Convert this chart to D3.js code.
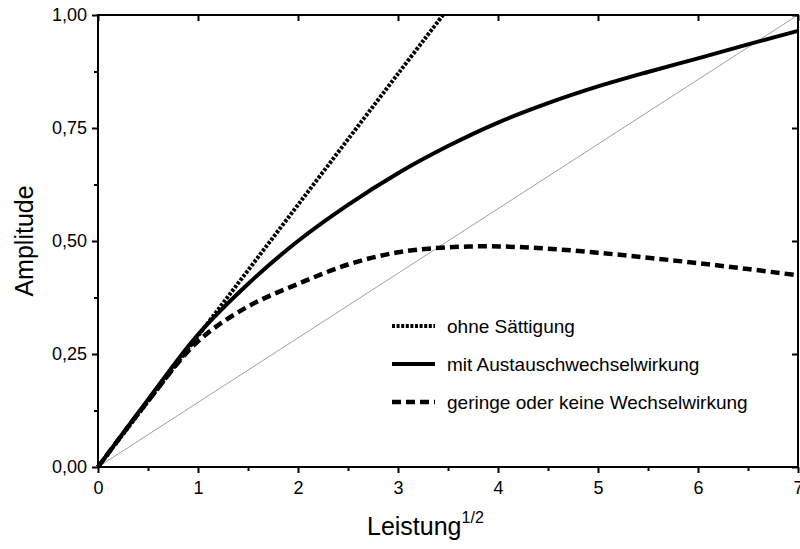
<!DOCTYPE html>
<html>
<head>
<meta charset="utf-8">
<script src="https://cdn.jsdelivr.net/npm/d3@7"></script>
<style>
  body { margin: 0; background: #fff; }
  svg { display: block; font-family: "Liberation Sans", Arial, sans-serif; }
</style>
</head>
<body>
<div id="chart"></div>
<script>
// values
var xTicks = [0, 1, 2, 3, 4, 5, 6, 7];
var yTicks = [0, 0.25, 0.5, 0.75, 1];

var ohneX = [0, 1, 2, 3, 3.45];
var ohneY = [0, 0.29, 0.58, 0.87, 1.0];

var mitX = [0, 0.5, 1, 1.5, 2, 2.5, 3, 3.5, 4, 4.5, 5, 5.5, 6, 6.5, 7];
var mitY = [0, 0.149, 0.293, 0.405, 0.5, 0.58, 0.65, 0.71, 0.762, 0.805, 0.842, 0.874, 0.904, 0.935, 0.965];

var geringX = [0, 0.5, 1, 1.5, 2, 2.5, 3, 3.5, 4, 4.5, 5, 5.5, 6, 6.5, 7];
var geringY = [0, 0.146, 0.278, 0.355, 0.405, 0.448, 0.475, 0.486, 0.488, 0.483, 0.474, 0.463, 0.451, 0.438, 0.424];

var diagX = [0, 7];
var diagY = [0, 1];

var legendLabels = ["ohne Sättigung", "mit Austauschwechselwirkung", "geringe oder keine Wechselwirkung"];

var W = 800, H = 549;
var pad = {l: 98, r: 2, t: 15, b: 82};

var svg = d3.select('#chart').append('svg')
    .attr('width', W)
    .attr('height', H);

var x = d3.scaleLinear().domain([0, 7]).range([pad.l, W - pad.r]);
var y = d3.scaleLinear().domain([0, 1]).range([H - pad.b, pad.t]);

var line = d3.line()
    .x(d => x(d[0]))
    .y(d => y(d[1]))
    .curve(d3.curveCatmullRom);

function pairs(xs, ys) { return xs.map((v, i) => [v, ys[i]]); }

// thin reference diagonal
svg.append('path')
    .attr('d', line(pairs(diagX, diagY)))
    .attr('fill', 'none')
    .attr('stroke', '#777')
    .attr('stroke-width', 0.7);

var styles = [
    {w: 4, dash: '3,1.6'},
    {w: 4, dash: null},
    {w: 4.5, dash: '9,5'}
];
var series = [pairs(ohneX, ohneY), pairs(mitX, mitY), pairs(geringX, geringY)];

series.forEach(function(s, i) {
    svg.append('path')
        .attr('d', line(s))
        .attr('fill', 'none')
        .attr('stroke', '#000')
        .attr('stroke-width', styles[i].w)
        .attr('stroke-dasharray', styles[i].dash);
});

// axes
var xAxis = d3.axisBottom(x).tickValues(xTicks).tickFormat(d3.format('d')).tickSize(6).tickPadding(8);
var xMinor = d3.axisBottom(x).tickValues(d3.range(0.5, 7, 1)).tickFormat('').tickSize(4);
var yFmt = d => d.toFixed(2).replace('.', ',');
var yAxis = d3.axisLeft(y).tickValues(yTicks).tickFormat(yFmt).tickSize(6).tickPadding(5);
var yMinor = d3.axisLeft(y).tickValues([0.125, 0.375, 0.625, 0.875]).tickFormat('').tickSize(4);
var xTop = d3.axisBottom(x).tickValues(xTicks).tickFormat('').tickSize(6);
var yRight = d3.axisLeft(y).tickValues(yTicks).tickFormat('').tickSize(6);

function styleAxis(g) {
    g.select('.domain').remove();
    g.selectAll('line').attr('stroke', '#000').attr('stroke-width', 2);
    g.selectAll('text').attr('fill', '#000').style('font-size', '18px');
}

svg.append('g').attr('transform', 'translate(0,' + y(0) + ')').call(xAxis).call(styleAxis);
svg.append('g').attr('transform', 'translate(0,' + y(0) + ')').call(xMinor).call(styleAxis);
svg.append('g').attr('transform', 'translate(' + x(0) + ',0)').call(yAxis).call(styleAxis);
svg.append('g').attr('transform', 'translate(' + x(0) + ',0)').call(yMinor).call(styleAxis);
svg.append('g').attr('transform', 'translate(0,' + y(1) + ')').call(xTop).call(styleAxis);
svg.append('g').attr('transform', 'translate(' + x(7) + ',0)').call(yRight).call(styleAxis);

// frame
svg.append('rect')
    .attr('x', x(0)).attr('y', y(1))
    .attr('width', x(7) - x(0)).attr('height', y(0) - y(1))
    .attr('fill', 'none')
    .attr('stroke', '#000')
    .attr('stroke-width', 2);

// axis titles
var xt = svg.append('text')
    .attr('x', 367).attr('y', 535)
    .style('font-size', '25px');
xt.append('tspan').text('Leistung');
xt.append('tspan').attr('dy', -12).style('font-size', '16px').text('1/2');

svg.append('text')
    .attr('transform', 'translate(33,' + ((y(0) + y(1)) / 2) + ') rotate(-90)')
    .attr('text-anchor', 'middle')
    .style('font-size', '25px')
    .text('Amplitude');

// legend
var legend = svg.append('g');
legendLabels.forEach(function(lab, i) {
    var ly = 326 + i * 38;
    legend.append('line')
        .attr('x1', 392).attr('x2', 435)
        .attr('y1', ly).attr('y2', ly)
        .attr('stroke', '#000')
        .attr('stroke-width', styles[i].w)
        .attr('stroke-dasharray', styles[i].dash);
    legend.append('text')
        .attr('x', 447).attr('y', ly + 7)
        .style('font-size', '19px')
        .text(lab);
});
</script>
</body>
</html>
